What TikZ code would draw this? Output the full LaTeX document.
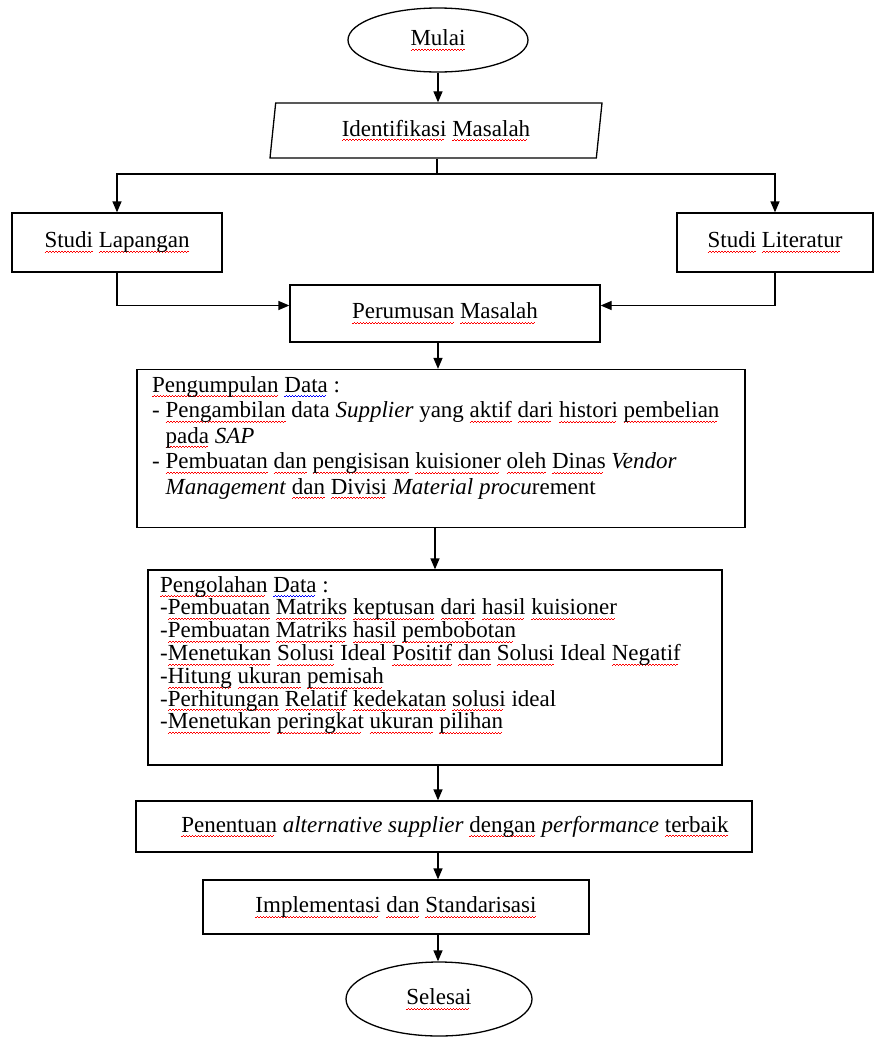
\documentclass[tikz,border=0pt]{standalone}
\usepackage{fontspec}
\setmainfont{Liberation Serif}
\usetikzlibrary{shapes.geometric,arrows.meta,calc}
\newsavebox\redwavebox
\newsavebox\bluewavebox
\newbox\wordbox
\newcommand\wavyword[2]{\setbox\wordbox\hbox{#2}\leavevmode\rlap{\raisebox{-5pt}{\hbox to\wd\wordbox{\leaders\copy#1\hfill}}}\box\wordbox}
\newcommand\rw[1]{\wavyword\redwavebox{#1}}
\newcommand\bw[1]{\wavyword\bluewavebox{#1}}
\tikzset{
  ln/.style={line width=1.3pt},
  arr/.style={ln,-{Triangle[length=11pt,width=9pt]}},
  term/.style={ellipse,draw,ln,inner sep=0pt,font=\fontsize{23}{22.7}\selectfont},
  para/.style={trapezium,trapezium left angle=75,trapezium right angle=105,trapezium stretches body,draw,ln,inner sep=0pt,font=\fontsize{23}{22.7}\selectfont},
  box/.style={rectangle,draw,ln,inner sep=0pt,font=\fontsize{23}{22.7}\selectfont},
  txt/.style={inner sep=0pt,align=left,anchor=north west}
}
\begin{document}
\sbox\redwavebox{\textcolor{red}{\rule{1.5pt}{0.8pt}\rule[1pt]{1.5pt}{0.8pt}}}%
\sbox\bluewavebox{\textcolor{blue}{\rule{1.5pt}{0.8pt}\rule[1pt]{1.5pt}{0.8pt}}}%
\begin{tikzpicture}[x=1pt,y=-1pt]
\useasboundingbox (0,0) rectangle (876,1039);
% nodes
\node[term,minimum width=180,minimum height=64] (mulai) at (438,40) {\rw{Mulai}};
\node[para,minimum width=332,minimum height=55] (id) at (436,130.5) {\rw{Identifikasi} \rw{Masalah}};
\node[box,minimum width=210,minimum height=59] (sl) at (117,242.5) {\rw{Studi} \rw{Lapangan}};
\node[box,minimum width=196,minimum height=59] (lit) at (775,242.5) {\rw{Studi} \rw{Literatur}};
\node[box,minimum width=310,minimum height=57] (per) at (445,313.5) {\rw{Perumusan} \rw{Masalah}};
\node[box,minimum width=608,minimum height=158] (pk) at (441,448.5) {};
\node[txt,font=\fontsize{23}{25.5}\selectfont] (pkt) at (152,376) {%
\rw{Pengumpulan} \bw{Data} :\\
- \rw{Pengambilan} data \textit{Supplier} yang \rw{aktif} \rw{dari} \rw{histori} \rw{pembelian}\\
\phantom{- }\rw{pada} \textit{SAP}\\
- \rw{Pembuatan} \rw{dan} \rw{pengisisan} \rw{kuisioner} \rw{oleh} \rw{Dinas} \textit{Vendor}\\
\phantom{- }\textit{Management} \rw{dan} \rw{Divisi} \textit{Material procu}rement};
\node[box,minimum width=574,minimum height=195] (po) at (435,667.5) {};
\node[txt,font=\fontsize{23}{22.8}\selectfont] (pot) at (160,576) {%
\rw{Pengolahan} \bw{Data} :\\
-\rw{Pembuatan} \rw{Matriks} \rw{keptusan} \rw{dari} \rw{hasil} \rw{kuisioner}\\
-\rw{Pembuatan} \rw{Matriks} \rw{hasil} \rw{pembobotan}\\
-\rw{Menetukan} \rw{Solusi} Ideal \rw{Positif} \rw{dan} \rw{Solusi} Ideal \rw{Negatif}\\
-\rw{Hitung} \rw{ukuran} \rw{pemisah}\\
-\rw{Perhitungan} \rw{Relatif} \rw{kedekatan} \rw{solusi} ideal\\
-\rw{Menetukan} \rw{peringkat} \rw{ukuran} \rw{pilihan}};
\node[box,minimum width=616,minimum height=51] (pen) at (444,826.5) {\hspace*{22pt}\rw{Penentuan} \textit{alternative supplier} \rw{dengan} \textit{performance} \rw{terbaik}};
\node[box,minimum width=386,minimum height=54] (imp) at (396,907) {\rw{Implementasi} \rw{dan} \rw{Standarisasi}};
\node[term,minimum width=186,minimum height=74] (sel) at (439,999) {\rw{Selesai}};
% connectors
\coordinate (j) at (437,174);
\draw[arr] (mulai.south) -- (id.north -| mulai.south);
\draw[ln] (id.south -| j) -- (j);
\draw[arr] (j) -| (sl.north);
\draw[arr] (j) -| (lit.north);
\draw[arr] (sl.south) |- ([yshift=8pt]per.west);
\draw[arr] (lit.south) |- ([yshift=8pt]per.east);
\draw[arr] (per.south -| mulai.south) -- (pk.north -| mulai.south);
\draw[arr] (pk.south -| po.north) -- (po.north);
\draw[arr] (po.south -| mulai.south) -- (pen.north -| mulai.south);
\draw[arr] (pen.south -| mulai.south) -- (imp.north -| mulai.south);
\draw[arr] (imp.south -| mulai.south) -- (sel.north -| mulai.south);
\end{tikzpicture}
\end{document}
